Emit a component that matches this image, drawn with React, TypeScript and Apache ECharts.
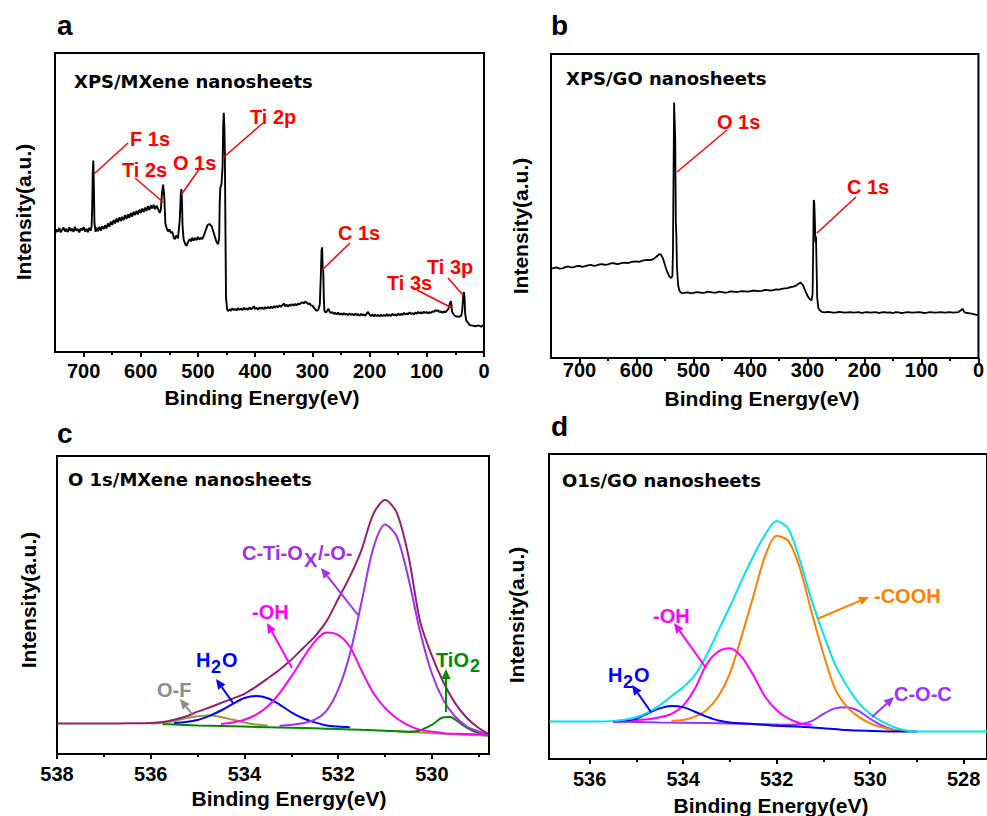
import React, { useEffect, useRef } from 'react';
import * as echarts from 'echarts';

// ---------- Panel a: XPS survey, MXene ([binding energy, intensity]) ----------
const surveyA: number[][] = [
  [750,39.5],[747.5,41.0],[745,40.2],[742.5,41.5],[740,40.0],[737.5,40.9],[735,41.6],[732.5,40.3],[730,41.2],[727.5,40.1],
  [725,41.7],[722.5,40.5],[720,41.3],[717.5,40.2],[715,41.9],[712.5,40.6],[710,41.1],[707.5,40.0],[705,41.4],[702.5,40.7],
  [700,41.8],[697.5,40.3],[695,41.2],[692.5,40.1],[690,41.5],[687.5,40.6],[686,42],[685,48],[684,60],[683,64],[682,55],[681,43],
  [679,40.2],[677.5,41.6],[675,40.4],[672.5,41.9],[670,40.6],[667.5,42.0],[665,41.1],[662.5,42.4],[660,41.3],[657.5,43.0],
  [655,41.9],[652.5,43.6],[650,42.5],[647.5,44.1],[645,43.0],[642.5,44.6],[640,43.4],[637.5,45.0],[635,43.8],[632.5,45.2],
  [630,44.1],[627.5,45.8],[625,44.5],[622.5,46.0],[620,44.9],[617.5,46.5],[615,45.3],[612.5,46.9],[610,45.8],[607.5,47.2],
  [605,46.0],[602.5,47.6],[600,46.5],[597.5,48.0],[595,46.8],[592.5,48.3],[590,47.2],[587.5,48.8],[585,47.5],[582.5,49.0],
  [580,48.0],[577.5,49.2],[575,47.8],[572.5,48.9],[570,48.0],[567,46.5],[565,47.5],[563,53],[561,56],[559,52],[557,43],
  [555,41.5],[552.5,40.3],[550,41.0],[547.5,39.8],[545,40.2],[542,38.0],[540,37.8],[538,39],[535,38],[532,44],[530,53],
  [529,54.5],[528,50],[527,42],[525,37.5],[522,36.0],[520,35.5],[517,37.0],[514,37.8],[512,37.0],[510,38.2],[507.5,37.3],
  [505,38.1],[502.5,37.4],[500,38.5],[497.5,37.6],[495,38.2],[492.5,37.8],[490,38.8],[486,41.0],[483,42.5],[480,42.8],
  [476,42.0],[472,39.5],[468,37.0],[465,36.0],[463,38],[462,50],[461,55],[459,56],[457,62],[456,75],[455,80],[454,76],
  [453,66],[452,40],[451,18],[449,14.2],[447.5,13.7],[445,14.3],[442.5,13.8],[440,14.6],[437.5,14.0],[435,14.4],[432.5,13.9],
  [430,14.7],[427.5,14.1],[425,14.5],[422.5,14.0],[420,14.8],[417.5,14.2],[415,14.6],[412.5,14.1],[410,14.9],[407.5,14.3],
  [405,14.6],[402.5,15.3],[400,14.4],[397.5,14.8],[395,14.2],[392.5,14.9],[390,14.4],[387.5,14.9],[385,14.3],[382.5,15.0],
  [380,14.5],[377.5,15.1],[375,14.6],[372.5,15.2],[370,14.7],[367.5,15.3],[365,14.8],[362.5,15.4],[360,15.0],[357.5,15.6],
  [355,15.1],[352.5,15.7],[350,16.2],[347.5,15.3],[345,15.8],[342.5,15.2],[340,15.9],[337.5,15.4],[335,16.0],[332.5,15.5],
  [330,16.1],[327.5,15.6],[325,16.2],[322.5,15.9],[320,16.4],[317.5,16.6],[315,16.3],[312.5,16.8],[310,16.5],[307.5,16.0],
  [305,16.3],[302.5,15.6],[300,15.5],[296,14.5],[293,13.8],[290,14.0],[287,16],[285,27],[284,34],[283,35],[282,28],[281,27],
  [280,18],[279,13.8],[277,13.2],[275,13.5],[272,14.5],[270,13.5],[267.5,13.0],[265,13.4],[262.5,12.7],[260,13.1],
  [257.5,12.6],[255,13.2],[252.5,12.5],[250,12.9],[247.5,12.4],[245,13.0],[242.5,12.5],[240,12.8],[237.5,12.3],[235,12.9],
  [232.5,12.4],[230,12.8],[227.5,12.2],[225,12.9],[222.5,12.3],[220,12.7],[217.5,12.1],[215,12.8],[212.5,12.2],[210,12.6],
  [207.5,12.1],[205,12.9],[202.5,13.4],[200,12.5],[197.5,12.0],[195,12.6],[192.5,11.9],[190,12.5],[187.5,12.0],[185,12.4],
  [182.5,11.9],[180,12.5],[177.5,12.0],[175,12.4],[172.5,12.0],[170,12.7],[167.5,12.1],[165,12.5],[162.5,12.0],[160,12.8],
  [157.5,12.2],[155,12.6],[152.5,12.1],[150,12.9],[147.5,12.3],[145,12.8],[142.5,12.4],[140,13.1],[137.5,12.5],[135,12.9],
  [132.5,12.6],[130,13.3],[127.5,12.7],[125,13.0],[122.5,12.6],[120,13.2],[117.5,12.8],[115,13.4],[112.5,12.9],[110,13.3],
  [107.5,12.9],[105,13.5],[102.5,13.0],[100,13.4],[97.5,12.9],[95,13.3],[92.5,13.1],[90,13.6],[87.5,13.4],[85,14.0],
  [82.5,13.7],[80,13.9],[77.5,13.3],[75,13.6],[72.5,13.1],[70,13.6],[67.5,13.3],[65,13.8],[62,14.5],[60,16],[58,17],[57,16],
  [56,13.5],[53,12.5],[50,12.0],[45,11.8],[40,12.0],[38,14],[36,19.5],[35,20],[34,18],[33,13],[31,10.5],[28,9.8],[25,9.0],
  [20,8.8],[15,8.6],[10,8.9],[5,8.5],[2,8.8],[0,9.2],
];

// ---------- Panel b: XPS survey, GO ----------
const surveyB: number[][] = [
  [750,29.3],[745,29.6],[740,29.8],[735,29.4],[730,29.5],[725,29.9],[720,30.1],[715,29.8],[710,29.9],[705,30.2],[700,30.3],
  [695,30.0],[690,30.2],[685,30.5],[680,30.6],[675,30.3],[670,30.5],[665,30.8],[660,30.9],[655,30.6],[650,30.8],[645,31.1],
  [640,31.2],[635,30.9],[630,31.0],[625,31.3],[620,31.4],[615,31.2],[610,31.5],[605,31.7],[600,31.8],[595,31.6],[590,32.0],
  [585,32.2],[580,32.3],[575,32.2],[570,32.6],[565,33.3],[560,34.2],[557,34.0],[553,32.5],[550,30.5],[546,28.3],[542,26.7],
  [539,26.3],[537,27],[536,35],[535,60],[534,84],[533,78],[532,72],[531,45],[530,40],[529,30],[527,24],[525,22.3],[522,21.5],
  [518,21.3],[514,21.5],[510,21.6],[505,21.3],[500,21.4],[495,21.7],[490,21.6],[485,21.4],[480,21.5],[475,21.8],[470,21.7],
  [465,21.5],[460,21.5],[455,21.8],[450,21.7],[445,21.5],[440,21.6],[435,21.9],[430,21.8],[425,21.7],[420,21.8],[415,22.0],
  [410,21.9],[405,21.8],[400,22.0],[395,22.2],[390,22.1],[385,22.0],[380,22.1],[375,22.4],[370,22.3],[365,22.2],[360,22.3],
  [355,22.6],[350,22.5],[345,22.7],[340,22.9],[335,23.0],[330,23.3],[325,23.5],[320,23.8],[315,24.5],[312,24.8],[308,24.0],
  [304,22.2],[300,20.5],[296,19.3],[293,19.0],[291,21],[290,35],[289,52],[288,51],[287,45],[286,38],[285,40],[284,30],[283,20],
  [281,16.5],[278,15.6],[275,15.2],[270,15.0],[265,15.2],[260,15.1],[255,14.9],[250,14.9],[245,15.2],[240,15.1],[235,14.9],
  [230,15.0],[225,15.1],[220,14.9],[215,15.0],[210,15.1],[205,14.8],[200,15.0],[195,15.1],[190,14.9],[185,15.0],[180,15.1],
  [175,14.8],[170,15.0],[165,15.1],[160,14.9],[155,15.0],[150,14.8],[145,15.1],[140,15.0],[135,14.8],[130,14.9],[125,15.1],
  [120,15.0],[115,14.9],[110,15.0],[105,15.1],[100,15.0],[95,14.8],[90,14.9],[85,15.1],[80,15.0],[75,14.9],[70,15.0],
  [65,15.1],[60,14.9],[55,15.0],[50,15.1],[45,14.9],[40,15.0],[35,15.1],[30,15.8],[28,16.2],[26,15.5],[24,15.0],[20,14.8],
  [15,14.7],[10,14.5],[5,14.3],[0,14.2],
];

// ---------- Panel c: O 1s, MXene ----------
const cGrid = [536,535.75,535.5,535.25,535,534.75,534.5,534.25,534,533.75,533.5,533.25,533,532.75,532.5,532.25,532,531.75,531.5,531.25,531,530.75,530.5,530.25,530,529.75,529.5,529.25,529,528.8];
const cEnvelopeE = [538, 537, 536.5, ...cGrid];
const cEnvelopeI = [10.2,10.2,10.3,10.4,10.7,11.5,12.6,14.2,15.6,17.1,18.6,20.2,22.6,25.4,28.3,31.6,35.5,39.4,44.5,52.0,59.5,68.5,80.5,85.2,81.0,66.5,44.5,33.0,24.0,17.0,12.1,8.7,6.8];
const cTiOxE = cGrid.slice(11);
const cTiOxI = [9.4,9.8,10.3,11.5,14.5,21.5,33.5,51.0,69.0,77.0,73.0,59.0,41.0,27.0,18.0,12.5,9.2,7.6,6.6];
const cOHE = cGrid.slice(6);
const cOHI = [10.1,10.6,11.5,13.2,16.0,20.4,26.0,32.1,37.7,40.8,40.0,36.0,28.0,20.5,15.5,12.0,9.6,8.1,7.5,7.0,6.8,6.7,6.6,6.5];
const cH2OE = cGrid.slice(2, 18);
const cH2OI = [10.4,10.7,11.4,12.8,14.6,16.8,18.8,19.5,18.7,16.6,14.0,12.0,10.6,9.6,9.2,9.0];
const cOFE = cGrid.slice(0, 11);
const cOFI = [10.2,10.5,11.1,12.0,12.7,12.9,12.4,11.5,10.6,9.9,9.5];
const cTiO2E = [535.75,535.5,535,534.5,534,533.5,533,532.5,532,531.5,531,530.5,530.25,530,529.75,529.6,529.5,529.25,529,528.8];
const cTiO2I = [10.0,9.9,9.6,9.4,9.2,9.0,8.8,8.6,8.4,8.1,7.8,7.5,7.9,9.8,12.3,12.4,11.5,8.8,7.0,6.3];
const cBgE = [530.75,530.5,530,529.5,529,528.8];
const cBgI = [7.6,7.4,7.0,6.6,6.3,6.1];

// ---------- Panel d: O 1s, GO ----------
const dGrid = [536,535.75,535.5,535.25,535,534.75,534.5,534.25,534,533.75,533.5,533.25,533,532.75,532.5,532.25,532,531.75,531.5,531.25,531,530.75,530.5,530.25,530,529.75,529.5,529.25,529];
const dEnvelopeE = [536.86, ...dGrid, 528.5, 528, 527.5];
const dEnvelopeI = [12.3,12.3,12.3,12.5,12.9,13.7,15.3,17.6,20.6,23.5,27.5,34.0,42.0,50.0,58.5,66.5,73.5,78.0,75.5,65.0,52.0,41.0,31.0,24.0,18.5,14.8,12.3,10.5,9.4,9.0,9.0,9.0,9.0];
const dCOOHE = dGrid.slice(7, 28);
const dCOOHI = [12.5,12.8,13.9,16.1,20.5,28.1,40.2,53.3,66.4,73.2,71.5,62.5,48.0,34.5,23.0,17.2,13.9,11.7,10.4,9.5,9.1];
const dOHE = dGrid.slice(2, 20);
const dOHI = [12.3,12.4,12.8,13.0,13.7,14.8,17.5,23.0,31.0,35.2,36.3,33.5,27.5,20.5,16.0,13.3,11.7,11.2];
const dH2OE = [535.5,535.25,535,534.75,534.5,534.25,534,533.75,533.5,533.25,533,532.5,532,531.5,531,530.5,530,529.5,529];
const dH2OI = [12.3,12.6,13.3,15.0,16.6,17.4,17.0,15.5,13.9,12.6,12.0,11.5,10.9,10.6,10.1,9.5,9.2,9.0,9.0];
const dCOCE = [535.5,534.5,533.5,532.5,532,531.75,531.5,531.25,531,530.75,530.5,530.25,530,529.75,529.5,529.25];
const dCOCI = [12.3,12.0,11.8,11.5,11.3,11.2,11.4,12.4,14.8,16.6,17.0,15.8,13.2,11.0,9.6,9.1];

// ---------- Axis ticks ----------
const surveyMajor = [0,100,200,300,400,500,600,700];
const surveyMinor = [50,150,250,350,450,550,650];
const cMajor = [530,532,534,536,538];
const cMinor = [529,531,533,535,537];
const dMajor = [528,530,532,534,536];
const dMinor = [529,531,533,535];

const FONT = '"Liberation Sans", Arial, sans-serif';
const TITLE_FONT = '"DejaVu Sans", sans-serif';

const zip = (xs: number[], ys: number[]) => xs.map((x, i) => [x, ys[i]]);

function App() {
  const ref = useRef<HTMLDivElement>(null);
  useEffect(() => {
    if (!ref.current) return;
    const chart = echarts.init(ref.current, null, { renderer: 'svg' });

    const grids = [
      { left: 55, top: 53, width: 429, height: 299 },
      { left: 551, top: 54, width: 430, height: 304 },
      { left: 57, top: 456, width: 432, height: 298 },
      { left: 549, top: 454, width: 441, height: 305 },
    ].map(g => ({ ...g, show: true, borderColor: '#000', borderWidth: 2, backgroundColor: 'transparent' }));

    const ranges = [
      { min: 0, max: 750, major: surveyMajor, minor: surveyMinor, margin: 9 },
      { min: 0, max: 750, major: surveyMajor, minor: surveyMinor, margin: 2 },
      { min: 528.78, max: 538, major: cMajor, minor: cMinor, margin: 10 },
      { min: 527.5, max: 536.87, major: dMajor, minor: dMinor, margin: 10 },
    ];

    const xAxis: any[] = [];
    ranges.forEach((r, i) => {
      xAxis.push({
        type: 'value', gridIndex: i, min: r.min, max: r.max, inverse: true, position: 'bottom',
        axisLine: { show: false }, splitLine: { show: false },
        axisTick: { show: true, inside: false, length: 5, lineStyle: { color: '#000', width: 2 }, customValues: r.major },
        axisLabel: { show: true, margin: r.margin, color: '#000', fontFamily: FONT, fontWeight: 'bold', fontSize: 20, customValues: r.major },
      });
      xAxis.push({
        type: 'value', gridIndex: i, min: r.min, max: r.max, inverse: true, position: 'bottom',
        axisLine: { show: false }, splitLine: { show: false },
        axisTick: { show: true, inside: false, length: 3, lineStyle: { color: '#000', width: 2 }, customValues: r.minor },
        axisLabel: { show: false },
      });
    });
    const yAxis = [0, 1, 2, 3].map(i => ({ type: 'value', gridIndex: i, min: 0, max: 100, show: false }));

    const line = (panel: number, data: number[][], color: string, width: number, smooth: boolean | number) => ({
      type: 'line', xAxisIndex: panel * 2, yAxisIndex: panel, data, symbol: 'none', smooth,
      lineStyle: { color, width }, silent: true, z: 2,
    });

    const series = [
      line(0, surveyA, '#000', 1.9, false),
      line(1, surveyB, '#000', 1.8, false),
      line(2, zip(cBgE, cBgI), '#999933', 2, 0.3),
      line(2, zip(cOFE, cOFI), '#999933', 2, 0.3),
      line(2, zip(cTiO2E, cTiO2I), '#008A00', 2, 0.3),
      line(2, zip(cH2OE, cH2OI), '#0000FF', 2, 0.3),
      line(2, zip(cOHE, cOHI), '#FF00FF', 2, 0.3),
      line(2, zip(cTiOxE, cTiOxI), '#A030F0', 2, 0.3),
      line(2, zip(cEnvelopeE, cEnvelopeI), '#96206E', 2, 0.3),
      line(3, zip(dCOCE, dCOCI), '#9933FF', 2, 0.3),
      line(3, zip(dCOOHE, dCOOHI), '#FF8000', 2, 0.3),
      line(3, zip(dOHE, dOHI), '#FF00FF', 2, 0.3),
      line(3, zip(dH2OE, dH2OI), '#0000FF', 2, 0.3),
      line(3, zip(dEnvelopeE, dEnvelopeI), '#00E5EE', 2, 0.3),
    ];

    const T = (text: string, x: number, y: number, o: any = {}) => ({
      type: 'text', x, y, rotation: o.rot || 0, silent: true, z: 10,
      style: {
        text, fill: o.color || '#000', fontFamily: o.font || FONT, fontWeight: 'bold', fontSize: o.size || 20,
        align: o.align || 'left', verticalAlign: 'middle',
      },
    });
    const L = (x1: number, y1: number, x2: number, y2: number, color = '#FF0000', w = 1.5) => ({
      type: 'line', silent: true, z: 10, shape: { x1, y1, x2, y2 }, style: { stroke: color, lineWidth: w },
    });
    const arrow = (x1: number, y1: number, x2: number, y2: number, color: string) => {
      const dx = x2 - x1, dy = y2 - y1;
      const len = Math.hypot(dx, dy);
      const ux = dx / len, uy = dy / len;
      const hl = 10, hw = 4.5;
      const bx = x2 - ux * hl, by = y2 - uy * hl;
      return [
        L(x1, y1, bx, by, color, 2),
        {
          type: 'polygon', silent: true, z: 10,
          shape: { points: [[x2, y2], [bx - uy * hw, by + ux * hw], [bx + uy * hw, by - ux * hw]] },
          style: { fill: color },
        },
      ];
    };
    const RED = '#FF0000';

    const graphic: any[] = [
      // panel letters
      T('a', 57, 25, { size: 28 }),
      T('b', 551, 25, { size: 28 }),
      T('c', 57, 433, { size: 28 }),
      T('d', 551, 426, { size: 28 }),
      // titles
      T('XPS/MXene nanosheets', 74, 81, { font: TITLE_FONT, size: 18 }),
      T('XPS/GO nanosheets', 566, 78, { font: TITLE_FONT, size: 18 }),
      T('O 1s/MXene nanosheets', 68, 479, { font: TITLE_FONT, size: 18 }),
      T('O1s/GO nanosheets', 562, 480, { font: TITLE_FONT, size: 18 }),
      // axis titles
      T('Intensity(a.u.)', 23, 212, { rot: Math.PI / 2, align: 'center', size: 21 }),
      T('Intensity(a.u.)', 520, 226, { rot: Math.PI / 2, align: 'center', size: 21 }),
      T('Intensity(a.u.)', 28, 600, { rot: Math.PI / 2, align: 'center', size: 21 }),
      T('Intensity(a.u.)', 516, 615, { rot: Math.PI / 2, align: 'center', size: 21 }),
      T('Binding Energy(eV)', 262, 397, { align: 'center', size: 21 }),
      T('Binding Energy(eV)', 762, 398, { align: 'center', size: 21 }),
      T('Binding Energy(eV)', 289, 798, { align: 'center', size: 21 }),
      T('Binding Energy(eV)', 771, 805, { align: 'center', size: 21 }),
      // panel a annotations
      T('F 1s', 130, 139, { color: RED }), L(128, 143, 94, 174),
      T('Ti 2s', 122, 170, { color: RED }), L(135, 178, 163, 202),
      T('O 1s', 173, 163, { color: RED }), L(200, 168, 181, 195),
      T('Ti 2p', 250, 117, { color: RED }), L(263, 123, 224, 157),
      T('C 1s', 338, 233, { color: RED }), L(350, 243, 322, 270),
      T('Ti 3s', 387, 283, { color: RED }), L(417, 290, 452, 308),
      T('Ti 3p', 427, 267, { color: RED }), L(448, 278, 463, 295),
      // panel b annotations
      T('O 1s', 717, 122, { color: RED }), L(727, 130, 677, 172),
      T('C 1s', 847, 187, { color: RED }), L(856, 197, 817, 233),
      // panel c annotations
      T('C-Ti-O', 242, 553, { color: '#A030F0' }),
      T('X', 304, 560, { color: '#A030F0' }),
      T('/-O-', 318, 553, { color: '#A030F0' }),
      ...arrow(358, 615, 321, 568, '#A030F0'),
      T('-OH', 252, 612, { color: '#FF00FF' }),
      ...arrow(292, 668, 267, 623, '#FF00FF'),
      T('H', 196, 660, { color: '#0000FF' }),
      T('2', 211, 667, { color: '#0000FF', size: 18 }),
      T('O', 222, 660, { color: '#0000FF' }),
      ...arrow(233, 703, 216, 679, '#0000FF'),
      T('O-F', 157, 690, { color: '#8C8C8C' }),
      ...arrow(192, 714, 180, 699, '#8C8C8C'),
      T('TiO', 436, 660, { color: '#008A00' }),
      T('2', 470, 666, { color: '#008A00', size: 18 }),
      ...arrow(446, 712, 446, 669, '#008A00'),
      // panel d annotations
      T('-COOH', 874, 596, { color: '#FF8000' }),
      ...arrow(817, 619, 869, 597, '#FF8000'),
      T('-OH', 653, 616, { color: '#FF00FF' }),
      ...arrow(706, 668, 674, 623, '#FF00FF'),
      T('H', 608, 675, { color: '#0000FF' }),
      T('2', 623, 682, { color: '#0000FF', size: 18 }),
      T('O', 634, 675, { color: '#0000FF' }),
      ...arrow(651, 712, 632, 685, '#0000FF'),
      T('C-O-C', 894, 694, { color: '#9933FF' }),
      ...arrow(872, 717, 894, 697, '#9933FF'),
    ];

    chart.setOption({
      animation: false,
      backgroundColor: '#fff',
      grid: grids,
      xAxis,
      yAxis,
      series,
      graphic,
    });
    return () => chart.dispose();
  }, []);
  return <div ref={ref} style={{ position: 'absolute', left: 0, top: 0, width: 987, height: 816 }} />;
}

export default App;
